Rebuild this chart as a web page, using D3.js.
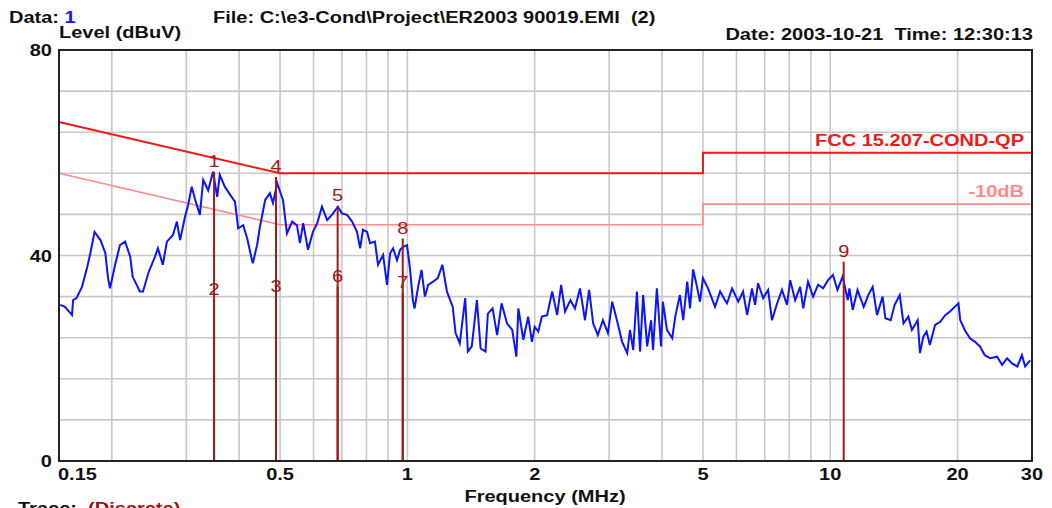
<!DOCTYPE html>
<html>
<head>
<meta charset="utf-8">
<script src="https://cdn.jsdelivr.net/npm/d3@7"></script>
<style>
  html, body { margin: 0; padding: 0; background: #fff; }
  svg { display: block; font-family: "Liberation Sans", Arial, sans-serif; }
  svg text { white-space: pre; }
</style>
</head>
<body>
<svg id="emi-chart"></svg>
<script>
// measured trace (MHz / dBuV)
const traceFreq = [
  0.151, 0.155, 0.161, 0.162, 0.165, 0.170, 0.175, 0.178, 0.182, 0.188,
  0.193, 0.196, 0.198, 0.204, 0.209, 0.215, 0.221, 0.224, 0.233, 0.237,
  0.244, 0.253, 0.257, 0.264, 0.270, 0.279, 0.285, 0.290, 0.298, 0.303,
  0.309, 0.315, 0.323, 0.329, 0.338, 0.347, 0.355, 0.360, 0.370, 0.381,
  0.391, 0.398, 0.409, 0.418, 0.429, 0.431, 0.441, 0.448, 0.461, 0.473,
  0.481, 0.492, 0.500, 0.508, 0.519, 0.534, 0.548, 0.557, 0.567, 0.582,
  0.598, 0.612, 0.628, 0.646, 0.663, 0.685, 0.700, 0.720, 0.740, 0.760,
  0.773, 0.785, 0.803, 0.816, 0.838, 0.852, 0.876, 0.895, 0.910, 0.925,
  0.945, 0.961, 0.977, 0.998, 1.015, 1.03, 1.04, 1.06, 1.08, 1.10,
  1.12, 1.15, 1.18, 1.21, 1.24, 1.28, 1.30, 1.33, 1.37, 1.39,
  1.42, 1.46, 1.49, 1.53, 1.55, 1.59, 1.63, 1.67, 1.72, 1.77,
  1.81, 1.83, 1.88, 1.93, 1.97, 2.00, 2.04, 2.08, 2.14, 2.20,
  2.26, 2.31, 2.36, 2.43, 2.49, 2.56, 2.63, 2.69, 2.75, 2.82,
  2.90, 2.98, 3.05, 3.13, 3.22, 3.31, 3.36, 3.42, 3.49, 3.55,
  3.61, 3.69, 3.77, 3.81, 3.89, 3.98, 4.02, 4.11, 4.23, 4.30,
  4.41, 4.49, 4.59, 4.66, 4.74, 4.84, 4.92, 5.00, 5.14, 5.34,
  5.49, 5.64, 5.70, 5.86, 6.06, 6.22, 6.36, 6.53, 6.64, 6.75,
  6.94, 7.13, 7.28, 7.49, 7.69, 7.90, 8.04, 8.26, 8.49, 8.63,
  8.86, 9.11, 9.36, 9.62, 9.88, 10.15, 10.4, 10.7, 11.0, 11.1,
  11.3, 11.6, 12.0, 12.3, 12.6, 12.9, 13.3, 13.5, 13.9, 14.2,
  14.6, 14.9, 15.3, 15.6, 16.1, 16.3, 16.6, 16.9, 17.2, 17.7,
  18.2, 18.7, 19.2, 19.7, 20.1, 20.3, 20.8, 21.4, 22.0, 22.6,
  23.2, 23.9, 24.8, 25.5, 26.2, 26.9, 27.7, 28.4, 28.9, 29.7
];
const traceLevel = [
  30.4, 30.0, 28.4, 31.3, 31.7, 33.9, 37.8, 40.5, 44.6, 43.0,
  40.5, 35.5, 33.6, 38.5, 42.0, 42.7, 39.8, 35.9, 33.0, 33.0,
  36.6, 39.8, 41.4, 38.2, 42.7, 44.0, 46.6, 43.0, 47.6, 49.8,
  53.4, 50.8, 47.9, 54.7, 52.7, 56.3, 51.4, 55.7, 53.4, 51.8,
  50.5, 45.3, 45.9, 43.3, 39.1, 38.5, 42.0, 45.6, 50.8, 52.1,
  50.2, 54.1, 52.4, 50.8, 44.3, 46.6, 45.9, 42.4, 46.3, 41.1,
  44.6, 46.3, 49.5, 46.9, 47.9, 49.5, 48.2, 47.9, 46.6, 44.6,
  41.4, 45.0, 44.6, 42.4, 42.7, 38.2, 40.1, 34.3, 40.4, 41.4,
  39.1, 41.1, 41.7, 42.0, 37.2, 31.3, 29.7, 33.9, 37.2, 32.0,
  34.3, 34.9, 35.6, 38.2, 33.0, 30.0, 24.9, 22.9, 31.7, 21.3,
  22.3, 31.3, 21.9, 21.3, 28.7, 29.7, 24.5, 30.7, 26.8, 25.5,
  20.3, 29.7, 23.6, 28.1, 23.2, 26.1, 25.2, 28.1, 28.4, 33.0,
  28.4, 34.3, 29.1, 31.3, 29.7, 33.6, 27.4, 33.3, 26.8, 24.5,
  27.4, 24.9, 31.0, 27.4, 23.2, 21.0, 25.5, 21.6, 33.0, 21.3,
  32.3, 22.3, 27.4, 21.6, 33.6, 22.3, 31.0, 25.5, 23.9, 28.1,
  32.3, 27.4, 34.9, 29.7, 37.3, 33.9, 31.0, 35.6, 33.6, 30.0,
  33.0, 31.3, 30.7, 33.6, 31.0, 33.0, 28.4, 33.6, 30.4, 34.6,
  31.7, 33.3, 27.4, 30.7, 33.3, 30.4, 35.2, 31.3, 33.9, 29.7,
  34.9, 32.0, 34.3, 33.6, 35.2, 36.2, 33.3, 35.9, 31.3, 33.6,
  29.4, 33.3, 30.0, 32.3, 33.9, 28.4, 32.0, 27.8, 27.4, 30.4,
  32.3, 26.8, 28.1, 25.5, 27.4, 21.0, 24.2, 25.2, 22.6, 26.5,
  27.1, 28.4, 29.1, 30.0, 30.7, 27.4, 25.5, 23.9, 23.2, 22.3,
  20.6, 20.0, 20.3, 18.7, 20.0, 19.0, 18.4, 20.6, 18.4, 19.6
];

// limit lines
const limitFreq = [0.15, 0.5, 5, 5, 30];
const limitQP = [66, 56, 56, 60, 60];
const limitMargin = [56, 46, 46, 50, 50];

// markers
const markerIds = ["1", "2", "3", "4", "5", "6", "7", "8", "9"];
const markerFreq = [0.349, 0.349, 0.489, 0.489, 0.684, 0.684, 0.975, 0.975, 10.76];
const markerLevel = [56.3, 31.3, 31.9, 55.3, 49.6, 33.9, 32.7, 43.3, 38.8];

// axes
const xTickValues = [0.15, 0.5, 1, 2, 5, 10, 20, 30];
const xGridValues = [0.2, 0.3, 0.4, 0.5, 0.6, 0.7, 0.8, 0.9, 1, 2, 3, 4, 5, 6, 7, 8, 9, 10, 20];
const yTickValues = [0, 40, 80];
const yGridValues = [8, 16, 24, 32, 40, 48, 56, 64, 72];

const width = 1052, height = 508;
const margin = {top: 50, right: 20, bottom: 47, left: 59};
const sx = 1.25; // the source picture is stretched horizontally

const svg = d3.select("#emi-chart")
    .attr("width", width)
    .attr("height", height);

const x = d3.scaleLog()
    .domain([0.15, 30])
    .range([margin.left, width - margin.right]);

const y = d3.scaleLinear()
    .domain([0, 80])
    .range([height - margin.bottom, margin.top]);

function label(px, py, str, opts) {
    opts = opts || {};
    const t = svg.append("text")
        .attr("transform", `translate(${px},${py}) scale(${sx},1)`)
        .attr("text-anchor", opts.anchor || "start")
        .style("font-size", (opts.size || 16) + "px")
        .style("font-weight", opts.weight || "bold")
        .attr("fill", opts.color || "#111");
    if (Array.isArray(str)) {
        str.forEach(s => t.append("tspan").attr("fill", s[1]).text(s[0]));
    } else {
        t.text(str);
    }
    return t;
}

// grid
svg.append("g").selectAll("line")
    .data(xGridValues)
    .enter().append("line")
    .attr("x1", d => x(d)).attr("x2", d => x(d))
    .attr("y1", y(0)).attr("y2", y(80))
    .attr("stroke", "#c8c8c8").attr("stroke-width", 1.6);

svg.append("g").selectAll("line")
    .data(yGridValues)
    .enter().append("line")
    .attr("x1", x(0.15)).attr("x2", x(30))
    .attr("y1", d => y(d)).attr("y2", d => y(d))
    .attr("stroke", "#c8c8c8").attr("stroke-width", 1.6);

// limit lines
const limitLine = d3.line()
    .x(d => x(d[0]))
    .y(d => y(d[1]));

svg.append("path")
    .datum(limitFreq.map((f, i) => [f, limitMargin[i]]))
    .attr("d", limitLine)
    .attr("fill", "none")
    .attr("stroke", "#ff8a8a")
    .attr("stroke-width", 1.6);

svg.append("path")
    .datum(limitFreq.map((f, i) => [f, limitQP[i]]))
    .attr("d", limitLine)
    .attr("fill", "none")
    .attr("stroke", "#f01818")
    .attr("stroke-width", 2);

// trace
svg.append("path")
    .datum(traceFreq.map((f, i) => [f, traceLevel[i]]))
    .attr("d", limitLine)
    .attr("fill", "none")
    .attr("stroke", "#0a14ff")
    .attr("stroke-width", 2)
    .attr("stroke-linejoin", "miter");

// markers
const markers = markerIds.map((id, i) => ({id: id, f: markerFreq[i], v: markerLevel[i]}));

svg.append("g").selectAll("line")
    .data(markers)
    .enter().append("line")
    .attr("x1", d => x(d.f)).attr("x2", d => x(d.f))
    .attr("y1", y(0)).attr("y2", d => y(d.v))
    .attr("stroke", "#9e1a1a").attr("stroke-width", 2);

markers.forEach(d => {
    label(x(d.f), y(d.v) - 5, d.id, {anchor: "middle", weight: "normal", size: 16, color: "#9e1a1a"});
});

// frame
svg.append("rect")
    .attr("x", x(0.15)).attr("y", y(80))
    .attr("width", x(30) - x(0.15))
    .attr("height", y(0) - y(80))
    .attr("fill", "none")
    .attr("stroke", "#222")
    .attr("stroke-width", 2);

// tick labels
yTickValues.forEach(v => label(52, y(v) + 6, String(v), {anchor: "end"}));
xTickValues.forEach(v => {
    const first = v === 0.15;
    label(first ? x(v) - 1 : x(v), 480, String(v), {anchor: first ? "start" : "middle"});
});

// header / titles
label(9, 23, [["Data: ", "#111"], ["1", "#1818e8"]]);
label(213, 23, "File: C:\\e3-Cond\\Project\\ER2003 90019.EMI  (2)");
label(59, 38, "Level (dBuV)");
label(1033, 40, "Date: 2003-10-21  Time: 12:30:13", {anchor: "end"});
label(545, 502, "Frequency (MHz)", {anchor: "middle"});
label(18, 514, [["Trace:  ", "#111"], ["(Discrete)", "#a01010"]]);

// legend of limit lines
label(1024, 146, "FCC 15.207-COND-QP", {anchor: "end", color: "#f01818"});
label(1024, 197, "-10dB", {anchor: "end", color: "#ff8a8a"});
</script>
</body>
</html>
